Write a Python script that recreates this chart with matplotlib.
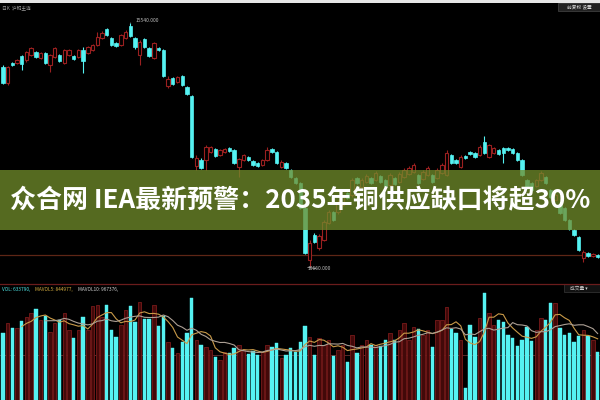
import matplotlib
matplotlib.use('Agg')
import matplotlib.pyplot as plt
import numpy as np
import pandas as pd
from matplotlib.patches import Rectangle
from matplotlib.lines import Line2D

plt.rcParams['font.family'] = ['Noto Sans CJK SC', 'DejaVu Sans']

# ---------------- data ----------------
opens = [14660, 14340, 14740, 14740, 14880, 14800, 14900, 14960, 14840, 14940,
         14700, 14860, 14900, 14740, 14900, 14880, 14860, 15000, 14940, 15000,
         15100, 15240, 15420, 15240, 15140, 15100, 15240, 15480, 15240, 14900,
         15220, 15040, 14840, 15040, 15000, 14280, 14440, 14360, 14480, 14260,
         14080, 12680, 12800, 12800, 12960, 13020, 12900, 12960, 13040, 13000,
         12660, 12800, 12860, 12780, 12740, 12700, 12800, 13020, 12960, 12660,
         12740, 12600, 12440, 12340, 11840, 10800, 11300, 11040, 11200, 11540,
         11760, 11760, 11900, 12140, 12100, 12440, 12260, 12360, 12440, 12400,
         12480, 12400, 12300, 12440, 12360, 12460, 12520, 12560, 12500, 12420,
         12500, 12500, 12440, 12540, 12500, 12900, 12800, 12660, 12880, 12960,
         12940, 12900, 13160, 12860, 12940, 13000, 13040, 13040, 13020, 12940,
         12800, 12400, 12340, 12280, 12400, 12460, 12200, 12000, 11900, 11840,
         11600, 11400, 11260, 10840, 10940, 10880, 10900]
highs = [14700, 14680, 14760, 14820, 14900, 14980, 15060, 14980, 14960, 14960,
         14920, 15060, 14920, 15020, 15020, 14900, 15020, 15060, 15080, 15120,
         15360, 15380, 15440, 15260, 15160, 15320, 15400, 15540, 15260, 15200,
         15240, 15060, 15160, 15060, 15020, 14480, 14460, 14480, 14500, 14280,
         14100, 12900, 12840, 13100, 13080, 13040, 13020, 13040, 13060, 13020,
         12840, 12920, 12880, 12800, 12760, 12820, 13060, 13040, 12980, 12800,
         12760, 12620, 12460, 12360, 11860, 11200, 11340, 11320, 11600, 11800,
         11780, 12000, 12100, 12160, 12440, 12460, 12440, 12520, 12460, 12580,
         12500, 12420, 12540, 12460, 12560, 12640, 12680, 12740, 12520, 12600,
         12680, 12520, 12640, 12740, 13000, 12920, 12820, 12900, 12900, 12980,
         12960, 13100, 13280, 13120, 13060, 13020, 13060, 13060, 13040, 12960,
         12820, 12420, 12360, 12420, 12580, 12480, 12220, 12140, 11920, 11860,
         11620, 11420, 11280, 11000, 10960, 10940, 10920]
lows = [14320, 14300, 14680, 14720, 14600, 14760, 14880, 14840, 14820, 14720,
        14560, 14840, 14760, 14720, 14880, 14800, 14840, 14540, 14920, 14980,
        15080, 15220, 15280, 15080, 15060, 15080, 15220, 15260, 15020, 14700,
        15040, 14860, 14820, 14980, 14460, 14240, 14300, 14340, 14280, 14100,
        12840, 12600, 12620, 12600, 12940, 12860, 12880, 12940, 12960, 12720,
        12460, 12780, 12780, 12680, 12660, 12680, 12780, 12940, 12720, 12640,
        12620, 12440, 12320, 11820, 10920, 10660, 11140, 11000, 11180, 11520,
        11580, 11720, 11880, 12020, 12060, 12320, 12240, 12340, 12320, 12380,
        12340, 12260, 12280, 12300, 12340, 12440, 12500, 12540, 12320, 12400,
        12480, 12340, 12420, 12520, 12480, 12720, 12720, 12640, 12820, 12900,
        12840, 12880, 12920, 12840, 12920, 12900, 12740, 12980, 12920, 12780,
        12480, 12220, 12180, 12260, 12380, 12320, 12040, 11980, 11720, 11580,
        11400, 11280, 10980, 10760, 10860, 10860, 10840]
closes = [14340, 14660, 14700, 14800, 14720, 14960, 15040, 14860, 14940, 14740,
          14900, 15040, 14780, 15000, 15000, 14820, 15000, 14780, 15060, 15100,
          15260, 15340, 15300, 15100, 15080, 15300, 15360, 15280, 15060, 15160,
          15060, 14880, 15140, 15000, 14480, 14420, 14320, 14460, 14300, 14120,
          12860, 12840, 12640, 13060, 13060, 12880, 13000, 13020, 12980, 12740,
          12820, 12900, 12800, 12700, 12680, 12800, 13000, 12960, 12740, 12760,
          12640, 12460, 12340, 11840, 10940, 11140, 11160, 11280, 11560, 11760,
          11600, 11960, 12060, 12040, 12400, 12340, 12400, 12480, 12340, 12540,
          12360, 12280, 12500, 12320, 12520, 12600, 12640, 12700, 12340, 12560,
          12640, 12360, 12600, 12700, 12940, 12740, 12740, 12860, 12840, 12920,
          12860, 13060, 12940, 13100, 13040, 12920, 12940, 13000, 12940, 12800,
          12500, 12240, 12200, 12400, 12540, 12340, 12060, 12100, 11740, 11600,
          11420, 11300, 11000, 10960, 10880, 10920, 10860]
volumes = [871, 1001, 936, 936, 1027, 1079, 1131, 1183, 1040, 1092,
           884, 1001, 1040, 1131, 910, 806, 910, 1079, 910, 1222,
           1235, 1079, 1235, 910, 819, 975, 1170, 1222, 1014, 1274,
           1053, 1053, 1235, 962, 1092, 754, 676, 611, 754, 871,
           1326, 780, 715, 689, 650, 559, 520, 624, 611, 676,
           715, 650, 598, 637, 585, 624, 715, 689, 741, 546,
           585, 676, 624, 754, 962, 819, 585, 806, 715, 780,
           572, 650, 715, 494, 845, 611, 715, 780, 715, 715,
           702, 780, 871, 780, 910, 1001, 780, 949, 923, 845,
           910, 689, 1040, 1040, 1209, 923, 871, 780, 156, 975,
           819, 1066, 1391, 1131, 975, 1040, 1014, 845, 806, 702,
           780, 949, 767, 910, 1066, 1040, 1261, 1261, 936, 845,
           871, 754, 832, 910, 832, 780, 624]  # thousand lots

title = "众合网 IEA最新预警：2035年铜供应缺口将超30%"
vol_labels = [("VOL: 633790,", "#4fe8e8"), ("MAVOL5: 844977,", "#d8b040"), ("MAVOL10: 967376,", "#d0d0d0")]

# ---------------- styling ----------------
CYAN = "#55f2f2"
RED = "#9a2020"
BG = "black"

o = np.array(opens, float); c = np.array(closes, float)
h = np.array(highs, float); l = np.array(lows, float)
v = np.array(volumes, float)
x = np.arange(len(o))
up = c > o
dn = ~up

fig = plt.figure(figsize=(6, 4), dpi=100, facecolor=BG)
ax = fig.add_axes([0, 117/400, 1, 283/400], facecolor=BG)
axv = fig.add_axes([0, 0, 1, 115/400], facecolor=BG)

# candles
bb = np.minimum(o, c)
bh = np.maximum(np.abs(c - o), 25)
ax.vlines(x[up], l[up], h[up], color=RED, lw=0.8, zorder=1)
ax.vlines(x[dn], l[dn], h[dn], color=CYAN, lw=0.8, zorder=1)
ax.bar(x[up], bh[up], bottom=bb[up], width=0.72, facecolor=BG, edgecolor=RED, linewidth=0.8, zorder=2)
ax.bar(x[dn], bh[dn], bottom=bb[dn], width=0.72, facecolor=CYAN, edgecolor=CYAN, linewidth=0.5, zorder=2)
ax.axhline(10900, color="#5e2616", lw=0.9, zorder=0)
ax.set_xlim(-0.6, 126.5)
ax.set_ylim(10340, 16000)
ax.axis('off')

# high / low markers
ih = int(np.argmax(h)); il = int(np.argmin(l))
ax.annotate(f"{h[ih]:.3f}", xy=(ih, h[ih]), xytext=(ih + 1.2, h[ih] + 60),
            color="#bbbbbb", fontsize=3.6, va='center', ha='left',
            arrowprops=dict(arrowstyle='-', color="#bbbbbb", lw=0.5))
ax.annotate(f"{l[il]:.3f}", xy=(il - 1, l[il]), xytext=(il - 0.5, l[il] - 40),
            color="#bbbbbb", fontsize=3.6, va='center', ha='left',
            arrowprops=dict(arrowstyle='-', color="#bbbbbb", lw=0.5))

# volume
axv.bar(x[up], v[up], width=0.72, facecolor="#420909", edgecolor="#781a1a", linewidth=0.6, zorder=2)
axv.bar(x[dn], v[dn], width=0.72, facecolor=CYAN, edgecolor=CYAN, linewidth=0.3, zorder=2)
ma5 = pd.Series(v).rolling(5).mean()
ma10 = pd.Series(v).rolling(10).mean()
axv.plot(x, ma5, color="#c99a48", lw=0.8, zorder=3)
axv.plot(x, ma10, color="#ada095", lw=0.8, zorder=3)
axv.axhline(585, color="#5a2a2a", lw=0.7, zorder=1)
axv.set_xlim(-0.6, 126.5)
axv.set_ylim(0, 1495)
axv.axis('off')

fig.add_artist(Line2D([0, 1], [116/400, 116/400], color="#6a1c1c", lw=0.9))

# volume header text
xpos = [0.004, 0.058, 0.13]
for (t, col), xp in zip(vol_labels, xpos):
    fig.text(xp, 1 - 289/400, t, color=col, fontsize=3.4, va='center', ha='left')
fig.add_artist(Rectangle((0.94, 1 - 292/400), 0.06, 8/400, transform=fig.transFigure,
                         facecolor="#111111", edgecolor="#444444", lw=0.4))
fig.text(0.965, 1 - 288/400, "成交量 ▾", color="#cccccc", fontsize=3.4, va='center', ha='center')

# top strip and headers
fig.add_artist(Rectangle((0, 1 - 3/400), 1, 3/400, transform=fig.transFigure,
                         facecolor="#e6e6e6", edgecolor='none'))
fig.text(0.003, 1 - 8/400, "日K  沪铜主连", color="#9a9a9a", fontsize=3.4, va='center', ha='left')
fig.add_artist(Rectangle((0.93, 1 - 11/400), 0.07, 8/400, transform=fig.transFigure,
                         facecolor="#222222", edgecolor="#555555", lw=0.4))
fig.text(0.965, 1 - 7/400, "前复权 设置", color="#dddddd", fontsize=3.4, va='center', ha='center')

# banner
fig.add_artist(Rectangle((0, 1 - 230/400), 1, 60/400, transform=fig.transFigure,
                         facecolor="#718c2b", edgecolor='none', alpha=0.76, zorder=5))
fig.text(0.5, 1 - 201/400, title, color='white', fontsize=18.7, fontweight='bold',
         ha='center', va='center', zorder=6)

fig.savefig("out.png", dpi=100, facecolor=BG)
